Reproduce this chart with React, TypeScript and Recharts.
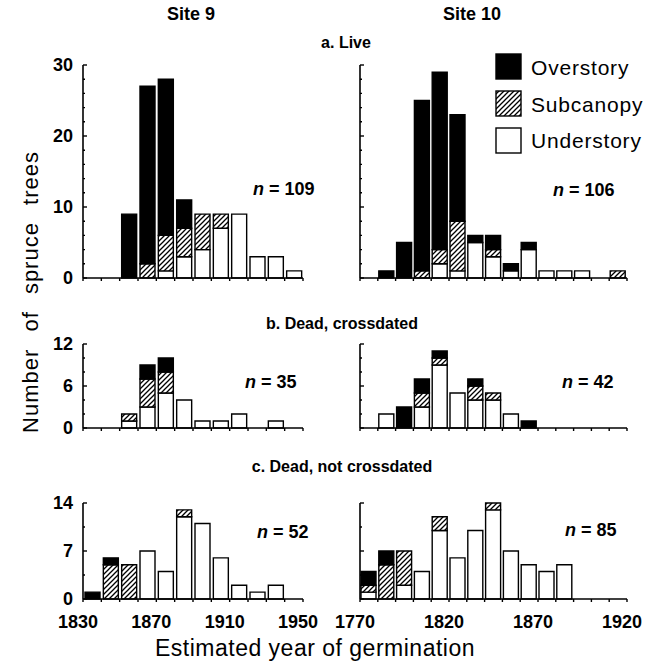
import { BarChart, Bar, XAxis, YAxis } from 'recharts';

// bin start years (10-year classes)
const site9Bins = [1830, 1840, 1850, 1860, 1870, 1880, 1890, 1900, 1910, 1920, 1930, 1940];
const site10Bins = [1770, 1780, 1790, 1800, 1810, 1820, 1830, 1840, 1850, 1860, 1870, 1880, 1890, 1900, 1910];

const site9XLabels = [1830, 1870, 1910, 1950];
const site10XLabels = [1770, 1820, 1870, 1920];

// a. Live
const liveSite9Over = [0, 0, 9, 25, 22, 4, 0, 0, 0, 0, 0, 0];
const liveSite9Sub = [0, 0, 0, 2, 5, 4, 5, 2, 0, 0, 0, 0];
const liveSite9Under = [0, 0, 0, 0, 1, 3, 4, 7, 9, 3, 3, 1];
const liveSite10Over = [0, 1, 5, 24, 25, 15, 1, 2, 1, 1, 0, 0, 0, 0, 0];
const liveSite10Sub = [0, 0, 0, 1, 2, 7, 0, 1, 0, 0, 0, 0, 0, 0, 1];
const liveSite10Under = [0, 0, 0, 0, 2, 1, 5, 3, 1, 4, 1, 1, 1, 0, 0];

// b. Dead, crossdated
const crossSite9Over = [0, 0, 0, 2, 2, 0, 0, 0, 0, 0, 0, 0];
const crossSite9Sub = [0, 0, 1, 4, 3, 0, 0, 0, 0, 0, 0, 0];
const crossSite9Under = [0, 0, 1, 3, 5, 4, 1, 1, 2, 0, 1, 0];
const crossSite10Over = [0, 0, 3, 2, 1, 0, 1, 0, 0, 1, 0, 0, 0, 0, 0];
const crossSite10Sub = [0, 0, 0, 2, 1, 0, 2, 1, 0, 0, 0, 0, 0, 0, 0];
const crossSite10Under = [0, 2, 0, 3, 9, 5, 4, 4, 2, 0, 0, 0, 0, 0, 0];

// c. Dead, not crossdated
const notSite9Over = [1, 1, 0, 0, 0, 0, 0, 0, 0, 0, 0, 0];
const notSite9Sub = [0, 5, 5, 0, 0, 1, 0, 0, 0, 0, 0, 0];
const notSite9Under = [0, 0, 0, 7, 4, 12, 11, 6, 2, 1, 2, 0];
const notSite10Over = [2, 2, 0, 0, 0, 0, 0, 0, 0, 0, 0, 0, 0, 0, 0];
const notSite10Sub = [1, 5, 5, 0, 2, 0, 0, 1, 0, 0, 0, 0, 0, 0, 0];
const notSite10Under = [1, 0, 2, 4, 10, 6, 10, 13, 7, 5, 4, 5, 0, 0, 0];

const FONT = '"Liberation Sans", Arial, Helvetica, sans-serif';

const YTick = ({ x, y, payload, majors, showLabels }: any) => {
  const isMajor = majors.includes(payload.value);
  return (
    <g>
      <line x1={x} x2={x + (isMajor ? 4 : 2)} y1={y} y2={y} stroke="#000" strokeWidth={1.4} />
      {showLabels && isMajor && (
        <text x={x - 10} y={y} textAnchor="end" dominantBaseline="central"
          fontFamily={FONT} fontWeight="bold" fontSize={18} fill="#000">
          {payload.value}
        </text>
      )}
    </g>
  );
};

const XTick = ({ x, y, payload, labels }: any) => (
  <g>
    <line x1={x} x2={x} y1={y} y2={y + 3} stroke="#000" strokeWidth={1.4} />
    {labels.includes(payload.value) && (
      <text x={x - 5} y={y + 23} textAnchor="middle" dominantBaseline="central"
        fontFamily={FONT} fontWeight="bold" fontSize={18} fill="#000">
        {payload.value}
      </text>
    )}
  </g>
);

interface PanelProps {
  id: string;
  left: number;
  top: number;
  width: number;
  height: number;
  bins: number[];
  over: number[];
  sub: number[];
  under: number[];
  yMax: number;
  yMajors: number[];
  yStep: number;
  showYLabels: boolean;
  xLabels: number[];
}

function Panel(props: PanelProps) {
  const { id, left, top, width, height, bins, over, sub, under, yMax, yMajors, yStep, showYLabels, xLabels } = props;
  const data = bins.map((b, i) => ({ mid: b + 5, over: over[i], sub: sub[i], under: under[i] }));
  const xTicks = [...bins, bins[bins.length - 1] + 10];
  const yTicks: number[] = [];
  for (let v = 0; v <= yMax + 0.001; v += yStep) yTicks.push(Math.round(v * 100) / 100);
  const barProps = { stackId: 's', stroke: '#000', strokeWidth: 1.4, barSize: 15, isAnimationActive: false };

  return (
    <div style={{ position: 'absolute', left, top }}>
      <BarChart width={width} height={height} data={data} margin={{ top: 14, right: 26, bottom: 0, left: 10 }}>
        <defs>
          <pattern id={`hatch-${id}`} patternUnits="userSpaceOnUse" width={5} height={5}>
            <rect width={5} height={5} fill="#fff" />
            <path d="M-1,1 l2,-2 M0,5 l5,-5 M4,6 l2,-2" stroke="#000" strokeWidth={1.3} />
          </pattern>
        </defs>
        <XAxis
          type="number"
          dataKey="mid"
          domain={[xTicks[0], xTicks[xTicks.length - 1]]}
          ticks={xTicks}
          interval={0}
          tickSize={0}
          tickMargin={0}
          height={40}
          axisLine={{ stroke: '#000', strokeWidth: 1.6 }}
          tick={(p: any) => <XTick {...p} labels={xLabels} />}
        />
        <YAxis
          type="number"
          domain={[0, yMax]}
          ticks={yTicks}
          interval={0}
          width={44}
          tickSize={0}
          tickMargin={0}
          axisLine={{ stroke: '#000', strokeWidth: 1.6 }}
          tick={(p: any) => <YTick {...p} majors={yMajors} showLabels={showYLabels} />}
        />
        <Bar dataKey="under" fill="#fff" {...barProps} />
        <Bar dataKey="sub" fill={`url(#hatch-${id})`} {...barProps} />
        <Bar dataKey="over" fill="#000" {...barProps} />
      </BarChart>
    </div>
  );
}

const nLabel = (x: number, y: number, n: number) => (
  <text x={x} y={y} dominantBaseline="central" fontFamily={FONT} fontWeight="bold" fontSize={18} fill="#000">
    <tspan fontStyle="italic">n</tspan> = {n}
  </text>
);

export default function App() {
  // plot areas: site 9 x 83..303, site 10 x 360..627
  const leftX = 29;
  const rightX = 306;
  const leftW = 300;
  const rightW = 347;
  return (
    <div style={{ position: 'relative', width: 661, height: 667, background: '#fff', fontFamily: FONT }}>
      <style>{'body{margin:0}'}</style>

      <Panel id="a9" left={leftX} top={51} width={leftW} height={267} bins={site9Bins}
        over={liveSite9Over} sub={liveSite9Sub} under={liveSite9Under}
        yMax={30} yMajors={[0, 10, 20, 30]} yStep={2} showYLabels xLabels={[]} />
      <Panel id="a10" left={rightX} top={51} width={rightW} height={267} bins={site10Bins}
        over={liveSite10Over} sub={liveSite10Sub} under={liveSite10Under}
        yMax={30} yMajors={[0, 10, 20, 30]} yStep={2} showYLabels={false} xLabels={[]} />

      <Panel id="b9" left={leftX} top={330} width={leftW} height={138} bins={site9Bins}
        over={crossSite9Over} sub={crossSite9Sub} under={crossSite9Under}
        yMax={12} yMajors={[0, 6, 12]} yStep={2} showYLabels xLabels={[]} />
      <Panel id="b10" left={rightX} top={330} width={rightW} height={138} bins={site10Bins}
        over={crossSite10Over} sub={crossSite10Sub} under={crossSite10Under}
        yMax={12} yMajors={[0, 6, 12]} yStep={2} showYLabels={false} xLabels={[]} />

      <Panel id="c9" left={leftX} top={489} width={leftW} height={150} bins={site9Bins}
        over={notSite9Over} sub={notSite9Sub} under={notSite9Under}
        yMax={14} yMajors={[0, 7, 14]} yStep={3.5} showYLabels xLabels={site9XLabels} />
      <Panel id="c10" left={rightX} top={489} width={rightW} height={150} bins={site10Bins}
        over={notSite10Over} sub={notSite10Sub} under={notSite10Under}
        yMax={14} yMajors={[0, 7, 14]} yStep={3.5} showYLabels={false} xLabels={site10XLabels} />

      <svg width={661} height={667} style={{ position: 'absolute', left: 0, top: 0, pointerEvents: 'none' }}>
        <defs>
          <pattern id="hatch-legend" patternUnits="userSpaceOnUse" width={5} height={5}>
            <rect width={5} height={5} fill="#fff" />
            <path d="M-1,1 l2,-2 M0,5 l5,-5 M4,6 l2,-2" stroke="#000" strokeWidth={1.3} />
          </pattern>
        </defs>
        <g fontFamily={FONT} fill="#000">
          <text x={191} y={14} textAnchor="middle" dominantBaseline="central" fontWeight="bold" fontSize={18}>Site 9</text>
          <text x={472} y={14} textAnchor="middle" dominantBaseline="central" fontWeight="bold" fontSize={18}>Site 10</text>
          <text x={346} y={42} textAnchor="middle" dominantBaseline="central" fontWeight="bold" fontSize={16}>a. Live</text>
          <text x={342} y={323} textAnchor="middle" dominantBaseline="central" fontWeight="bold" fontSize={16}>b. Dead, crossdated</text>
          <text x={342} y={466} textAnchor="middle" dominantBaseline="central" fontWeight="bold" fontSize={16}>c. Dead, not crossdated</text>
          <text x={315} y={648} textAnchor="middle" dominantBaseline="central" fontSize={23} letterSpacing={0.5}>
            Estimated year of germination
          </text>
          <text transform="translate(30,292) rotate(-90)" textAnchor="middle" dominantBaseline="central"
            fontSize={22} letterSpacing={1} wordSpacing={10}>Number of spruce trees</text>

          <rect x={496} y={54} width={25} height={25} fill="#000" stroke="#000" strokeWidth={1.4} />
          <rect x={496} y={91} width={25} height={25} fill="url(#hatch-legend)" stroke="#000" strokeWidth={1.4} />
          <rect x={496} y={128} width={25} height={25} fill="#fff" stroke="#000" strokeWidth={1.4} />
          <text x={531} y={67} dominantBaseline="central" fontSize={21} letterSpacing={0.8}>Overstory</text>
          <text x={531} y={104} dominantBaseline="central" fontSize={21} letterSpacing={0.8}>Subcanopy</text>
          <text x={531} y={140} dominantBaseline="central" fontSize={21} letterSpacing={0.8}>Understory</text>

          {nLabel(253, 189, 109)}
          {nLabel(553, 190, 106)}
          {nLabel(245, 382, 35)}
          {nLabel(562, 382, 42)}
          {nLabel(257, 532, 52)}
          {nLabel(565, 530, 85)}
        </g>
      </svg>
    </div>
  );
}
